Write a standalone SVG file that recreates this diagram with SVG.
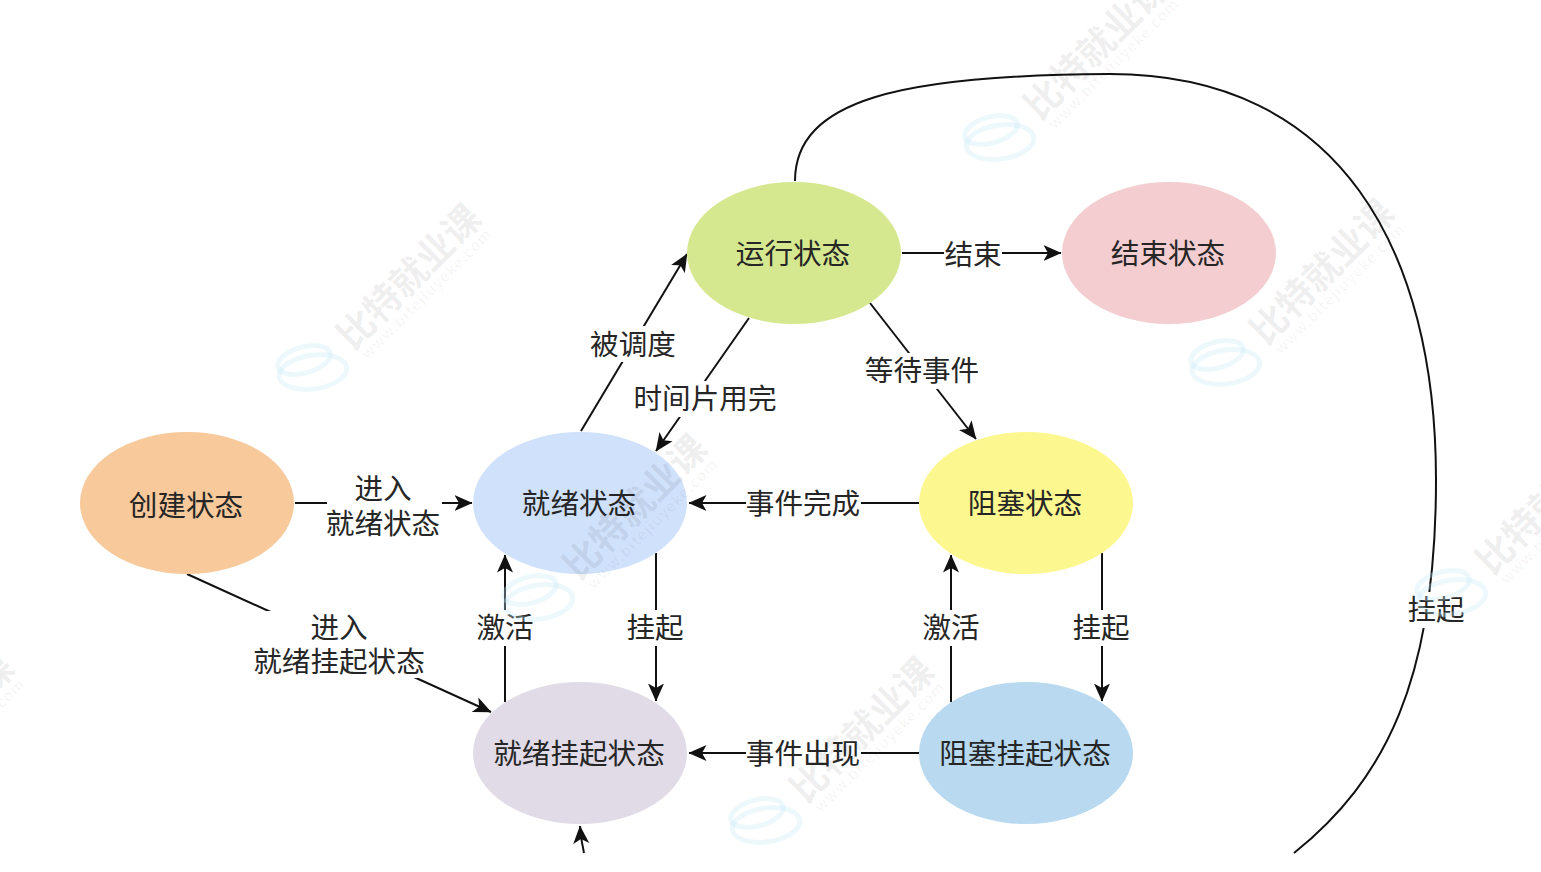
<svg xmlns="http://www.w3.org/2000/svg" width="1541" height="872" viewBox="0 0 1541 872">
<style>
text{font-family:"Noto Sans CJK SC","Liberation Sans",sans-serif;fill:#262626;font-size:28.6px;text-anchor:middle;dominant-baseline:central}
.c{fill:none;stroke:#111;stroke-width:2}
.a{marker-end:url(#arr)}
.w1{fill:#000;fill-opacity:.075;font-size:37px;font-weight:700}
.w2{fill:#000;fill-opacity:.06;font-size:15px;letter-spacing:1.4px}
.w3{fill:none;stroke:#c8e9f6;stroke-opacity:.32;stroke-width:5}
</style>
<defs><marker id="arr" viewBox="0 0 18 18" refX="17.5" refY="9" markerWidth="18" markerHeight="18" markerUnits="userSpaceOnUse" orient="auto"><path d="M0 1L18 9L0 17L4.5 9Z" fill="#111"/></marker>
<g id="wm"><text class="w1" transform="rotate(-45)" x="0" y="0">比特就业课</text><text class="w2" transform="rotate(-45)" x="1" y="26">www.bitejiuyeke.com</text><ellipse class="w3" cx="-94" cy="97" rx="34" ry="17" transform="rotate(-8 -94 97)"/><ellipse class="w3" cx="-103" cy="85" rx="27" ry="13" transform="rotate(-15 -103 85)"/></g></defs>
<g id="connectors">
<path class="c" d="M795 181C795 100 900 75 1110 74C1340 74 1436 250 1436 480C1436 680 1385 780 1294 853"/>
<path class="c a" d="M902 253H1061"/>
<path class="c a" d="M581 431L687 254"/>
<path class="c a" d="M749 318L656 451"/>
<path class="c a" d="M870 303L976 439"/>
<path class="c a" d="M295 503H472"/>
<path class="c a" d="M919 503H689"/>
<path class="c a" d="M187 574L491 712"/>
<path class="c a" d="M505 702V555"/>
<path class="c a" d="M656 553V701"/>
<path class="c a" d="M951 702V555"/>
<path class="c a" d="M1102 553V701"/>
<path class="c a" d="M919 753H689"/>
<path class="c a" d="M584 853Q581 840 580 826"/>
</g>
<g id="n-run"><ellipse cx="794" cy="253" rx="107" ry="71" fill="#d5e88f"/><text x="793" y="251">运行状态</text></g>
<g id="n-end"><ellipse cx="1169" cy="253" rx="107" ry="71" fill="#f4cdd0"/><text x="1168" y="251">结束状态</text></g>
<g id="n-create"><ellipse cx="187" cy="503" rx="107" ry="71" fill="#f7c99b"/><text x="186" y="503">创建状态</text></g>
<g id="n-ready"><ellipse cx="580" cy="503" rx="107" ry="71" fill="#d0e1fb"/><text x="579" y="501">就绪状态</text></g>
<g id="n-block"><ellipse cx="1026" cy="503" rx="107" ry="71" fill="#fdf78f"/><text x="1025" y="501">阻塞状态</text></g>
<g id="n-readysusp"><ellipse cx="580" cy="753" rx="107" ry="71" fill="#e0dbe6"/><text x="579" y="751">就绪挂起状态</text></g>
<g id="n-blocksusp"><ellipse cx="1026" cy="753" rx="107" ry="71" fill="#b8d9ef"/><text x="1025" y="751">阻塞挂起状态</text></g>
<g id="labels">
<rect x="944" y="236" width="58" height="36" fill="#fff"/><text x="973" y="252">结束</text>
<rect x="590" y="326" width="87" height="36" fill="#fff"/><text x="633" y="342">被调度</text>
<rect x="633" y="381" width="144" height="36" fill="#fff"/><text x="705" y="396">时间片用完</text>
<rect x="865" y="353" width="115" height="36" fill="#fff"/><text x="922" y="368">等待事件</text>
<rect x="327" y="472" width="115" height="70" fill="#fff"/><text x="383" y="486">进入<tspan x="383" dy="35">就绪状态</tspan></text>
<rect x="746" y="486" width="115" height="36" fill="#fff"/><text x="803" y="501">事件完成</text>
<rect x="252" y="611" width="173" height="67" fill="#fff"/><text x="339" y="625">进入<tspan x="339" dy="34">就绪挂起状态</tspan></text>
<rect x="476" y="610" width="58" height="36" fill="#fff"/><text x="505" y="625">激活</text>
<rect x="627" y="610" width="58" height="36" fill="#fff"/><text x="655" y="625">挂起</text>
<rect x="922" y="610" width="58" height="36" fill="#fff"/><text x="951" y="625">激活</text>
<rect x="1073" y="610" width="58" height="36" fill="#fff"/><text x="1101" y="625">挂起</text>
<rect x="746" y="736" width="115" height="36" fill="#fff"/><text x="803" y="751">事件出现</text>
<rect x="1408" y="592" width="58" height="36" fill="#fff"/><text x="1436" y="607">挂起</text>
</g>
<g id="watermarks">
<use href="#wm" x="407" y="275"/><use href="#wm" x="1094" y="45"/><use href="#wm" x="1320" y="270"/><use href="#wm" x="633" y="505"/><use href="#wm" x="860" y="728"/><use href="#wm" x="1546" y="500"/><use href="#wm" x="-60" y="725"/>
</g>
</svg>
